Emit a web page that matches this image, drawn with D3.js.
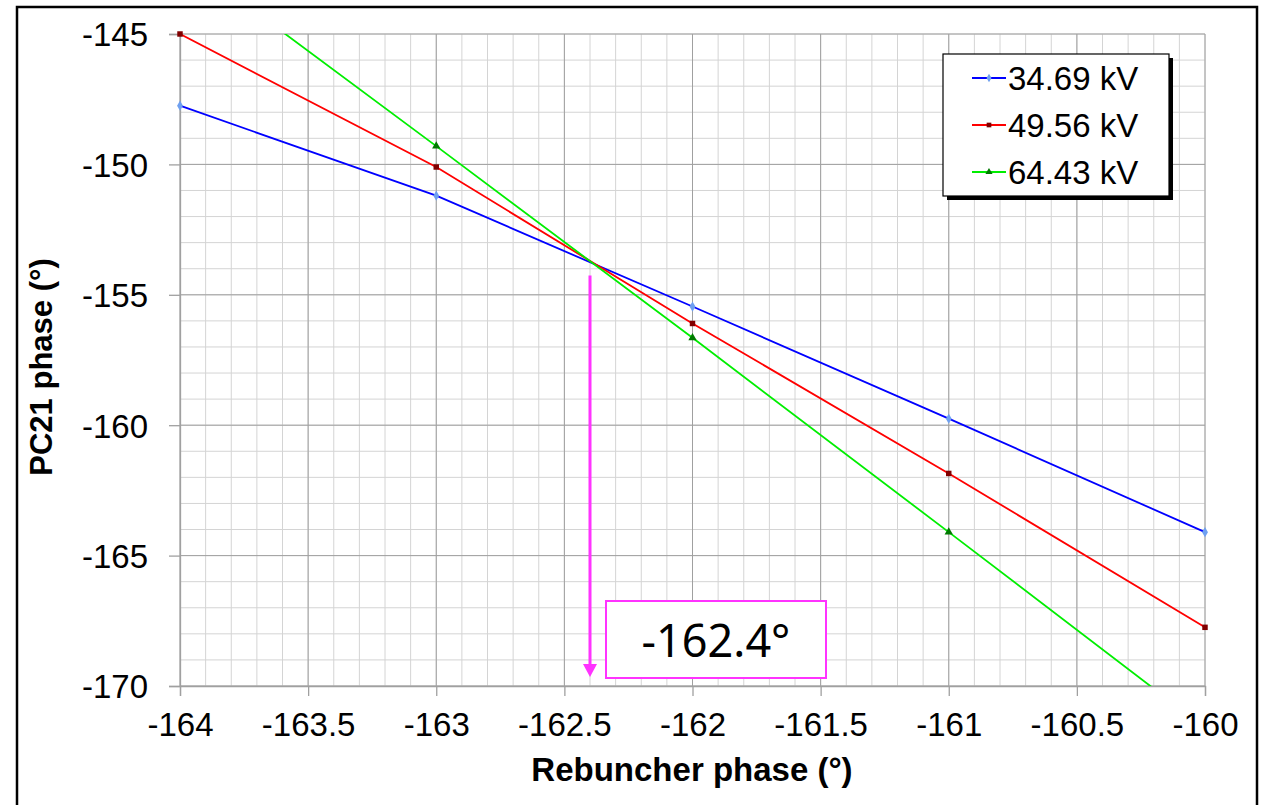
<!DOCTYPE html>
<html>
<head>
<meta charset="utf-8">
<script src="https://cdn.jsdelivr.net/npm/d3@7"></script>
<style>
  body { margin: 0; background: #fff; }
  svg text { font-family: "Liberation Sans", Arial, sans-serif; }
</style>
</head>
<body>
<div id="chart"></div>
<script>
const phases = [-164, -163, -162, -161, -160];
const seriesNames = ["34.69 kV", "49.56 kV", "64.43 kV"];
const values347 = [-147.75, -151.2, -155.45, -159.75, -164.1];
const values496 = [-145.0, -150.1, -156.1, -161.85, -167.75];
const values644 = [-142.0, -149.3, -156.65, -164.1, -171.6];
const xTicks = [-164, -163.5, -163, -162.5, -162, -161.5, -161, -160.5, -160];
const yTicks = [-145, -150, -155, -160, -165, -170];
const crossing = { x: -162.4, y: -153.8 };
const crossingLabel = "-162.4°";

const W = 1265, H = 805;
const margin = { top: 34, right: 60, bottom: 119, left: 180 };
const width = 1205 - margin.left;
const height = 686 - margin.top;

const svg = d3.select("#chart")
    .append("svg")
    .attr("width", W)
    .attr("height", H);

// outer frame
svg.append("rect")
    .attr("x", 17).attr("y", 7)
    .attr("width", 1240).attr("height", 805)
    .attr("fill", "none")
    .attr("stroke", "#000")
    .attr("stroke-width", 2.5);

const g = svg.append("g")
    .attr("transform", `translate(${margin.left},${margin.top})`);

const x = d3.scaleLinear().domain([-164, -160]).range([0, width]);
const y = d3.scaleLinear().domain([-145, -170]).range([0, height]);

// minor grid
const xMinor = d3.range(0, 41).map(i => -164 + i * 0.1);
const yMinor = d3.range(0, 26).map(i => -145 - i);

g.append("g").selectAll("line")
    .data(xMinor)
    .join("line")
    .attr("x1", d => x(d)).attr("x2", d => x(d))
    .attr("y1", 0).attr("y2", height)
    .attr("stroke", "#d4d4d4").attr("stroke-width", 1);

g.append("g").selectAll("line")
    .data(yMinor)
    .join("line")
    .attr("x1", 0).attr("x2", width)
    .attr("y1", d => y(d)).attr("y2", d => y(d))
    .attr("stroke", "#d4d4d4").attr("stroke-width", 1);

// major grid
g.append("g").selectAll("line")
    .data(xTicks)
    .join("line")
    .attr("x1", d => x(d)).attr("x2", d => x(d))
    .attr("y1", 0).attr("y2", height)
    .attr("stroke", "#a0a0a0").attr("stroke-width", 1);

g.append("g").selectAll("line")
    .data(yTicks)
    .join("line")
    .attr("x1", 0).attr("x2", width)
    .attr("y1", d => y(d)).attr("y2", d => y(d))
    .attr("stroke", "#a0a0a0").attr("stroke-width", 1);

// axes
const xAxis = g.append("g")
    .attr("transform", `translate(0,${height})`)
    .call(d3.axisBottom(x).tickValues(xTicks).tickSize(10).tickPadding(17).tickFormat(d => d));
const yAxis = g.append("g")
    .call(d3.axisLeft(y).tickValues(yTicks).tickSize(11).tickPadding(21).tickFormat(d => d));

[xAxis, yAxis].forEach(a => {
    a.attr("font-size", null).attr("font-family", null);
    a.select(".domain").attr("stroke", "#a0a0a0").attr("stroke-width", 1.3);
    a.selectAll(".tick line").attr("stroke", "#a0a0a0").attr("stroke-width", 1.3);
    a.selectAll(".tick text")
        .attr("fill", "#000")
        .style("font-size", "33px");
});
yAxis.selectAll(".tick text").attr("dy", "0.36em");

// axis titles
svg.append("text")
    .attr("x", 692).attr("y", 781)
    .attr("text-anchor", "middle")
    .style("font-size", "33px")
    .style("font-weight", "bold")
    .text("Rebuncher phase (°)");

svg.append("text")
    .attr("transform", "translate(52,367) rotate(-90)")
    .attr("text-anchor", "middle")
    .style("font-size", "31px")
    .style("font-weight", "bold")
    .text("PC21 phase (°)");

// series
const series = [
    { name: seriesNames[0], values: values347, line: "#0000ff", marker: "#6fa0f0", shape: d3.symbolDiamond },
    { name: seriesNames[1], values: values496, line: "#ff0000", marker: "#800000", shape: d3.symbolSquare },
    { name: seriesNames[2], values: values644, line: "#00ee00", marker: "#007a00", shape: d3.symbolTriangle }
];

g.append("clipPath").attr("id", "plotclip")
    .append("rect").attr("x", -4).attr("y", 0).attr("width", width + 8).attr("height", height);

const plot = g.append("g").attr("clip-path", "url(#plotclip)");

const line = d3.line()
    .x((d, i) => x(phases[i]))
    .y(d => y(d));

series.forEach(s => {
    plot.append("path")
        .datum(s.values)
        .attr("fill", "none")
        .attr("stroke", s.line)
        .attr("stroke-width", 1.8)
        .attr("d", line);
});

const markerClip = g.append("clipPath").attr("id", "markclip");
markerClip.append("rect").attr("x", -6).attr("y", -6).attr("width", width + 12).attr("height", height + 6);

series.forEach(s => {
    const pts = s.values.map((v, i) => ({ v, p: phases[i] })).filter(d => d.v <= -145 && d.v >= -170);
    g.append("g").attr("clip-path", "url(#markclip)")
        .selectAll("path")
        .data(pts)
        .join("path")
        .attr("transform", d => `translate(${x(d.p)},${y(d.v)})`)
        .attr("d", d3.symbol().type(s.shape).size(30))
        .attr("fill", s.marker);
});

// crossing arrow
const arrowColor = "#ff33ff";
g.append("line")
    .attr("x1", x(crossing.x)).attr("x2", x(crossing.x))
    .attr("y1", y(crossing.y) + 12).attr("y2", height - 20)
    .attr("stroke", arrowColor).attr("stroke-width", 3);
g.append("path")
    .attr("d", `M${x(crossing.x) - 7},${height - 22} L${x(crossing.x) + 7},${height - 22} L${x(crossing.x)},${height - 9} Z`)
    .attr("fill", arrowColor);

// label box
svg.append("rect")
    .attr("x", 606).attr("y", 601)
    .attr("width", 220).attr("height", 77)
    .attr("fill", "#fff")
    .attr("stroke", arrowColor).attr("stroke-width", 2);
svg.append("text")
    .attr("x", 716).attr("y", 657)
    .attr("text-anchor", "middle")
    .style("font-family", "'Noto Sans', 'Open Sans', sans-serif")
    .style("font-size", "45px")
    .text(crossingLabel);

// legend
const lg = svg.append("g").attr("transform", "translate(943,54)");
lg.append("rect")
    .attr("x", 4).attr("y", 4).attr("width", 226).attr("height", 142)
    .attr("fill", "#000");
lg.append("rect")
    .attr("width", 226).attr("height", 142)
    .attr("fill", "#fff").attr("stroke", "#000").attr("stroke-width", 1.2);

series.forEach((s, i) => {
    const ly = 24 + i * 47;
    lg.append("line")
        .attr("x1", 29).attr("x2", 63)
        .attr("y1", ly).attr("y2", ly)
        .attr("stroke", s.line).attr("stroke-width", 1.8);
    lg.append("path")
        .attr("transform", `translate(46,${ly})`)
        .attr("d", d3.symbol().type(s.shape).size(22))
        .attr("fill", s.marker);
    lg.append("text")
        .attr("x", 65).attr("y", ly + 12)
        .style("font-size", "33px")
        .text(s.name);
});
</script>
</body>
</html>
